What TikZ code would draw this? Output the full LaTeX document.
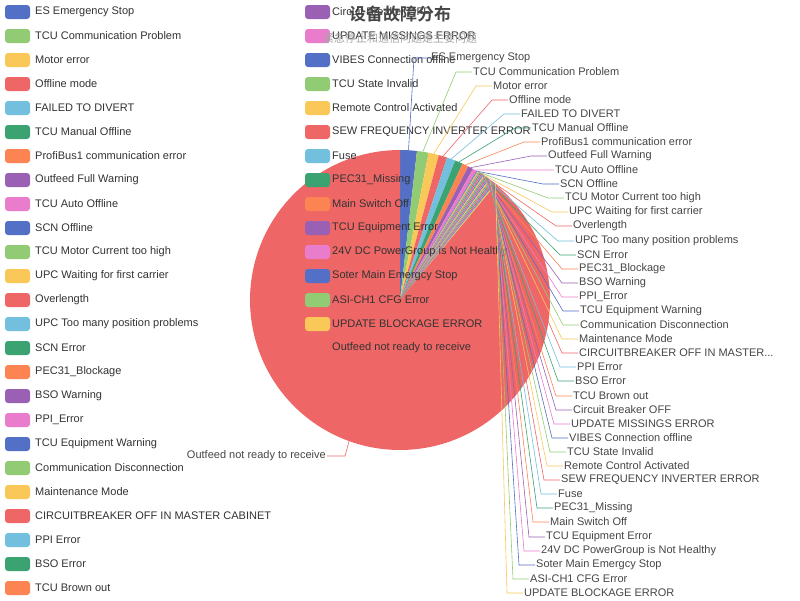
\documentclass[tikz,border=0pt]{standalone}
\usepackage{fontspec}
\setmainfont{Liberation Sans}
\newfontfamily\cjk{Noto Sans CJK SC}
\newfontfamily\cjkb{Noto Sans CJK SC Bold}
\def\threedots{...}
\definecolor{c0}{HTML}{5470C6}
\definecolor{c1}{HTML}{91CC75}
\definecolor{c2}{HTML}{FAC858}
\definecolor{c3}{HTML}{EE6666}
\definecolor{c4}{HTML}{73C0DE}
\definecolor{c5}{HTML}{3BA272}
\definecolor{c6}{HTML}{FC8452}
\definecolor{c7}{HTML}{9A60B4}
\definecolor{c8}{HTML}{EA7CCC}
\definecolor{txt}{HTML}{333333}
\definecolor{lbltxt}{HTML}{464646}
\tikzset{
 lbl/.style={font=\fontsize{11}{13}\selectfont, text=lbltxt, inner sep=1pt},
 legtxt/.style={font=\fontsize{11}{13}\selectfont, text=txt, inner sep=0pt, anchor=west},
 leader/.style={line width=0.6pt}
}
\begin{document}
\begin{tikzpicture}[x=1pt,y=-1pt]
\fill[white] (0,0) rectangle (800,600);
\useasboundingbox (0,0) rectangle (800,600);
% pie
\xdef\curA{90}
\foreach \d [count=\n from 0] in {6.5,4.5,4,3.3,3.3,3,2.5,2,1.6,0.3,0.3,0.3,0.3,0.3,0.3,0.3,0.3,0.3,0.3,0.3,0.3,0.3,0.3,0.3,0.3,0.3,0.3,0.3,0.3,0.3,0.3,0.3,0.3,0.3,0.3,0.3,0.3,0.3,0.3,320.3}{
 \pgfmathtruncatemacro\ci{mod(\n,9)}
 \pgfmathsetmacro\b{\curA-\d}
 \pgfmathsetmacro\m{\curA-\d/2}
 \pgfmathtruncatemacro\s{\d/2+3}
 \fill[c\ci] (400,300) -- plot[domain=\curA:\b,samples=\s] ({400+150*cos(\x)},{300-150*sin(\x)}) -- cycle;
 \coordinate (e\n) at ({400+150*cos(\m)},{300-150*sin(\m)});
 \xdef\curA{\b}
}
% legend
\foreach \t [count=\n from 0] in {ES Emergency Stop,TCU Communication Problem,Motor error,Offline mode,FAILED TO DIVERT,TCU Manual Offline,ProfiBus1 communication error,Outfeed Full Warning,TCU Auto Offline,SCN Offline,TCU Motor Current too high,UPC Waiting for first carrier,Overlength,UPC Too many position problems,SCN Error,PEC31\_Blockage,BSO Warning,PPI\_Error,TCU Equipment Warning,Communication Disconnection,Maintenance Mode,CIRCUITBREAKER OFF IN MASTER CABINET,PPI Error,BSO Error,TCU Brown out}{
 \pgfmathtruncatemacro\ci{mod(\n,9)}
 \pgfmathsetmacro\yy{12+24*\n}
 \fill[c\ci,rounded corners=3pt] (5,\yy-7) rectangle (30,\yy+7);
 \node[legtxt] (g\n) at (35,\yy) {\t};
}
\foreach \t [count=\n from 25] in {Circuit Breaker OFF,UPDATE MISSINGS ERROR,VIBES Connection offline,TCU State Invalid,Remote Control Activated,SEW FREQUENCY INVERTER ERROR,Fuse,PEC31\_Missing,Main Switch Off,TCU Equipment Error,24V DC PowerGroup is Not Healthy,Soter Main Emergcy Stop,ASI-CH1 CFG Error,UPDATE BLOCKAGE ERROR,Outfeed not ready to receive}{
 \pgfmathtruncatemacro\ci{mod(\n,9)}
 \pgfmathsetmacro\yy{12+24*(\n-25)}
 \fill[c\ci,rounded corners=3pt] (305,\yy-7) rectangle (330,\yy+7);
 \node[legtxt] (g\n) at (332,\yy) {\t};
}
% labels
\foreach \lx/\ly/\t [count=\n from 0] in {430/58/ES Emergency Stop,472/72/TCU Communication Problem,492/86/Motor error,508/100/Offline mode,520/114/FAILED TO DIVERT,531/128/TCU Manual Offline,540/142/ProfiBus1 communication error,547/156/Outfeed Full Warning,554/170/TCU Auto Offline,559/184/SCN Offline,564/198/TCU Motor Current too high,568/212/UPC Waiting for first carrier,572/226/Overlength,574/241/UPC Too many position problems,576/255/SCN Error,578/269/PEC31\_Blockage,578/283/BSO Warning,578/297/PPI\_Error,579/311/TCU Equipment Warning,579/325/Communication Disconnection,578/339/Maintenance Mode,578/353/CIRCUITBREAKER OFF IN MASTER\threedots,576/367/PPI Error,574/381/BSO Error,572/396/TCU Brown out,572/410/Circuit Breaker OFF,570/424/UPDATE MISSINGS ERROR,568/438/VIBES Connection offline,566/452/TCU State Invalid,563/466/Remote Control Activated,560/480/SEW FREQUENCY INVERTER ERROR,557/494/Fuse,553/508/PEC31\_Missing,549/522/Main Switch Off,545/537/TCU Equipment Error,540/551/24V DC PowerGroup is Not Healthy,535/565/Soter Main Emergcy Stop,529/579/ASI-CH1 CFG Error,523/593/UPDATE BLOCKAGE ERROR}{
 \pgfmathtruncatemacro\ci{mod(\n,9)}
 \node[lbl,anchor=west] (t\n) at (\lx,\ly) {\t};
 \draw[leader,c\ci] (e\n) -- ([xshift=-16pt]t\n.west) -- (t\n.west);
}
\node[lbl,anchor=east] (t39) at (327,456) {Outfeed not ready to receive};
\draw[leader,c3] (e39) -- (345,456) -- (t39.east);
% title
\node[font=\cjkb\fontsize{17}{20}\selectfont,text=lbltxt] (title) at (400,14) {设备故障分布};
\node[font=\cjk\fontsize{11}{13}\selectfont,text=gray!70] (sub) at (400,38) {紧急停止和通信问题是主要问题};
\end{tikzpicture}
\end{document}
